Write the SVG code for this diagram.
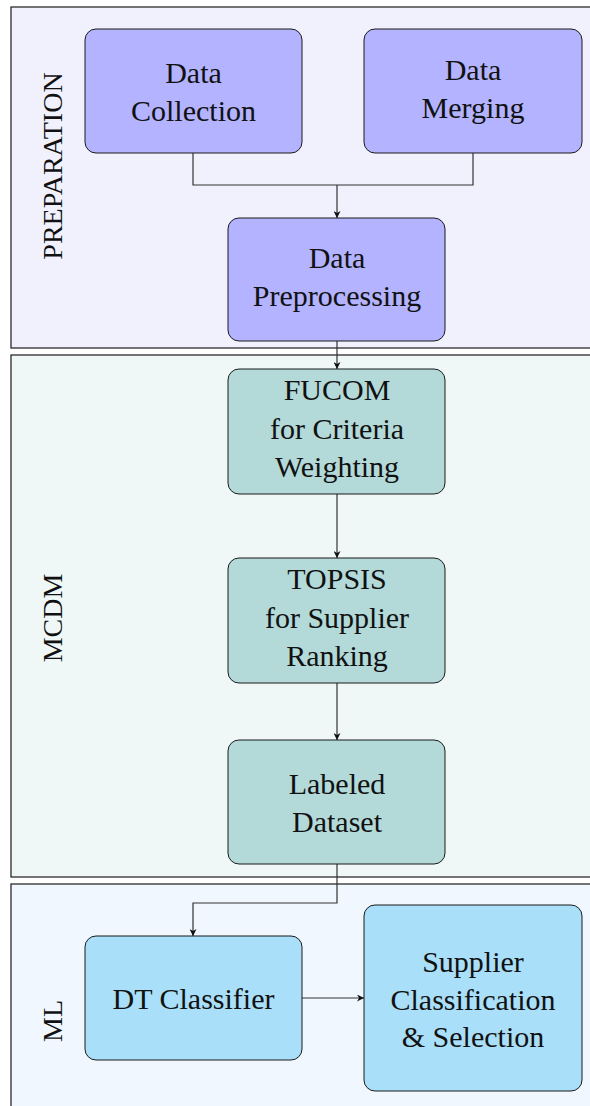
<svg xmlns="http://www.w3.org/2000/svg" width="590" height="1106" viewBox="0 0 590 1106">
  <style>
    .frame { stroke: #2b2b2b; stroke-width: 1.3; }
    .node { stroke: #1a1a1a; stroke-width: 1; }
    .prep { fill: #b3b3ff; }
    .mcdm { fill: #b3d9d9; }
    .ml { fill: #a9dff9; }
    text { font-family: "Liberation Serif", "Times New Roman", serif; fill: #111; }
    .lbl { font-family: "Liberation Serif", serif; font-size: 30px; text-anchor: middle; }
    .side { font-size: 28px; text-anchor: middle; }
    .wire { fill: none; stroke: #333; stroke-width: 1.2; }
  </style>
  <defs>
    <marker id="arrow" viewBox="0 0 10 10" refX="10" refY="5" markerWidth="7" markerHeight="7" markerUnits="userSpaceOnUse" orient="auto">
      <path d="M0,0 L10,5 L0,10 L3,5 Z" fill="#111"/>
    </marker>
  </defs>

  <rect width="590" height="1106" fill="#ffffff"/>

  <!-- stage frames -->
  <g id="frames">
    <rect class="frame" x="11" y="7" width="600" height="341" fill="#f1f1fe"/>
    <rect class="frame" x="11" y="355" width="600" height="522" fill="#eff8f7"/>
    <rect class="frame" x="11" y="884" width="600" height="240" fill="#f0f7fe"/>
    <text class="side" transform="translate(61.5,166) rotate(-90)">PREPARATION</text>
    <text class="side" transform="translate(61.5,618) rotate(-90)">MCDM</text>
    <text class="side" transform="translate(61.5,1021) rotate(-90)">ML</text>
  </g>

  <!-- connectors -->
  <g id="connectors">
    <path class="wire" d="M193,153 V185 H473 V153"/>
    <path class="wire" d="M337,185 V218" marker-end="url(#arrow)"/>
    <path class="wire" d="M337,341 V369" marker-end="url(#arrow)"/>
    <path class="wire" d="M337,494 V558" marker-end="url(#arrow)"/>
    <path class="wire" d="M337,683 V740" marker-end="url(#arrow)"/>
    <path class="wire" d="M337,864 V903 H193 V936" marker-end="url(#arrow)"/>
    <path class="wire" d="M302,998 H364" marker-end="url(#arrow)"/>
  </g>

  <!-- preparation nodes -->
  <g id="data-collection">
    <rect class="node prep" x="85" y="29" width="217" height="124" rx="11"/>
    <text class="lbl" x="193.5" y="83">Data</text>
    <text class="lbl" x="193.5" y="121">Collection</text>
  </g>
  <g id="data-merging">
    <rect class="node prep" x="364" y="29" width="218" height="124" rx="11"/>
    <text class="lbl" x="473" y="80">Data</text>
    <text class="lbl" x="473" y="118">Merging</text>
  </g>
  <g id="data-preprocessing">
    <rect class="node prep" x="228" y="218" width="217" height="123" rx="11"/>
    <text class="lbl" x="337" y="268">Data</text>
    <text class="lbl" x="337" y="306">Preprocessing</text>
  </g>

  <!-- MCDM nodes -->
  <g id="fucom">
    <rect class="node mcdm" x="228" y="369" width="217" height="125" rx="11"/>
    <text class="lbl" x="337" y="400">FUCOM</text>
    <text class="lbl" x="337" y="439">for Criteria</text>
    <text class="lbl" x="337" y="477">Weighting</text>
  </g>
  <g id="topsis">
    <rect class="node mcdm" x="228" y="558" width="217" height="125" rx="11"/>
    <text class="lbl" x="337" y="589">TOPSIS</text>
    <text class="lbl" x="337" y="628">for Supplier</text>
    <text class="lbl" x="337" y="666">Ranking</text>
  </g>
  <g id="labeled-dataset">
    <rect class="node mcdm" x="228" y="740" width="217" height="124" rx="11"/>
    <text class="lbl" x="337" y="794">Labeled</text>
    <text class="lbl" x="337" y="832">Dataset</text>
  </g>

  <!-- ML nodes -->
  <g id="dt-classifier">
    <rect class="node ml" x="85" y="936" width="217" height="124" rx="11"/>
    <text class="lbl" x="193.5" y="1009">DT Classifier</text>
  </g>
  <g id="supplier-selection">
    <rect class="node ml" x="364" y="905" width="218" height="186" rx="11"/>
    <text class="lbl" x="473" y="972">Supplier</text>
    <text class="lbl" x="473" y="1010">Classification</text>
    <text class="lbl" x="473" y="1047">&amp; Selection</text>
  </g>
</svg>
